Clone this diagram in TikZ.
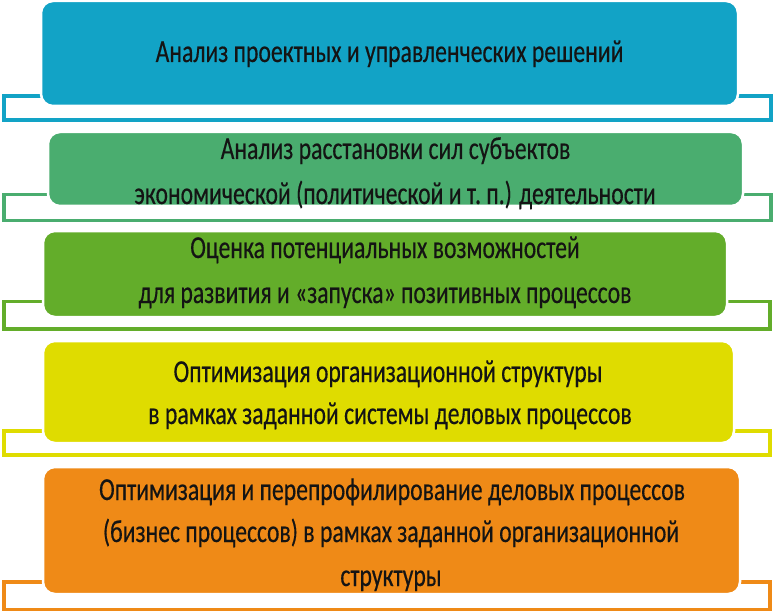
\documentclass[tikz,border=0pt]{standalone}
\usepackage{fontspec}
\newfontfamily\cf[FakeStretch=0.74,FakeBold=0.35]{Carlito}
\definecolor{cA}{HTML}{12A3C6}
\definecolor{cB}{HTML}{4AAD6F}
\definecolor{cC}{HTML}{63AD2A}
\definecolor{cD}{HTML}{DFDC00}
\definecolor{cE}{HTML}{EF8A17}
\definecolor{ink}{HTML}{141414}
\tikzset{
  box/.style={draw=white, line width=2.5pt, rounded corners=12pt, inner sep=0pt},
  bracket/.style={draw=#1, line width=3.5pt},
  lbl/.style={anchor=base, inner sep=0pt, text=ink, font=\cf\fontsize{32}{38}\selectfont}
}
\begin{document}
\begin{tikzpicture}[x=1pt,y=-1pt]
\useasboundingbox[fill=white] (0,0) rectangle (775,612);
% brackets
\draw[bracket=cA] (4,96) rectangle (771,120);
\draw[bracket=cB] (4,194.5) rectangle (771,220.5);
\draw[bracket=cC] (4,301.5) rectangle (770,329);
\draw[bracket=cD] (4,431) rectangle (770,455);
\draw[bracket=cE] (4,582) rectangle (770,609.5);
% boxes
\node[box, fill=cA, minimum width=697pt, minimum height=105pt] (b1) at (389.5,53.5) {};
\node[box, fill=cB, minimum width=695pt, minimum height=74pt] (b2) at (395.5,169) {};
\node[box, fill=cC, minimum width=684pt, minimum height=86pt] (b3) at (385,274) {};
\node[box, fill=cD, minimum width=691pt, minimum height=102pt] (b4) at (388.5,392) {};
\node[box, fill=cE, minimum width=697pt, minimum height=127pt] (b5) at (391.5,530.5) {};
% labels
\node[lbl] (t1) at (389.5,62) {Анализ проектных и управленческих решений};
\node[lbl] (t2a) at (395.5,159) {Анализ расстановки сил субъектов};
\node[lbl] (t2b) at (395,204) {экономической (политической и т.\,п.) деятельности};
\node[lbl] (t3a) at (385,258) {Оценка потенциальных возможностей};
\node[lbl] (t3b) at (385,303) {для развития и «запуска» позитивных процессов};
\node[lbl] (t4a) at (388,382) {Оптимизация организационной структуры};
\node[lbl] (t4b) at (390,424) {в рамках заданной системы деловых процессов};
\node[lbl] (t5a) at (392,500) {Оптимизация и перепрофилирование деловых процессов};
\node[lbl] (t5b) at (391,542) {(бизнес процессов) в рамках заданной организационной};
\node[lbl] (t5c) at (391,586) {структуры};
\end{tikzpicture}
\end{document}
